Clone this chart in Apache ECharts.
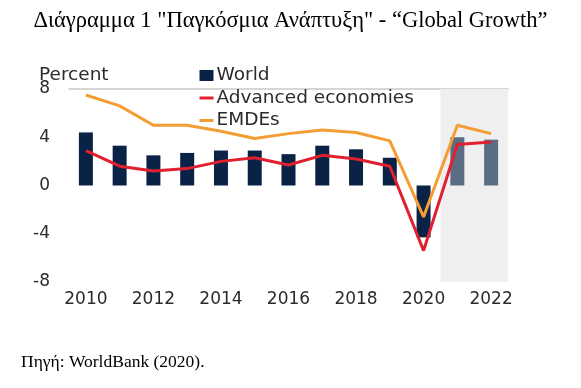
<!DOCTYPE html>
<html>
<head>
<meta charset="utf-8">
<script src="https://cdn.jsdelivr.net/npm/echarts@6/dist/echarts.min.js"></script>
<style>
  html, body { margin: 0; padding: 0; background: #ffffff; }
  #chart { width: 581px; height: 388px; }
</style>
</head>
<body>
<div id="chart"></div>
<script>
const years = ['2010','2011','2012','2013','2014','2015','2016','2017','2018','2019','2020','2021','2022'];
const world = [4.4, 3.3, 2.5, 2.7, 2.9, 2.9, 2.6, 3.3, 3.0, 2.3, -4.3, 4.0, 3.8];
const advanced = [2.9, 1.6, 1.2, 1.4, 2.0, 2.3, 1.7, 2.5, 2.2, 1.6, -5.4, 3.4, 3.6];
const emdes = [7.5, 6.6, 5.0, 5.0, 4.5, 3.9, 4.3, 4.6, 4.4, 3.7, -2.6, 5.0, 4.3];
const yTicks = [-8, -4, 0, 4, 8];
const forecastYears = ['2021', '2022'];

const titleText = 'Διάγραμμα 1 "Παγκόσμια Ανάπτυξη" - \u201CGlobal Growth\u201D';
const sourceText = 'Πηγή: WorldBank (2020).';

const NAVY = '#0b2247', FORE = '#5a6d83', RED = '#e0202f', ORANGE = '#f59d35';
const chart = echarts.init(document.getElementById('chart'), null, { renderer: 'canvas' });
const axisFont = { fontFamily: 'DejaVu Sans', fontSize: 17, color: '#2b2b2b' };
const fStart = years.indexOf(forecastYears[0]);
const fEnd = years.indexOf(forecastYears[forecastYears.length - 1]);
const hiddenSymbol = { color: 'rgba(0,0,0,0)', borderColor: 'rgba(0,0,0,0)', borderWidth: 0 };

chart.setOption({
  backgroundColor: '#ffffff',
  animation: false,
  title: [
    { text: titleText, left: 'center', top: 5,
      textStyle: { fontFamily: 'Liberation Serif', fontSize: 22.5, fontWeight: 'normal', color: '#000' } },
    { text: 'Percent', left: 34, top: 61,
      textStyle: { fontFamily: 'DejaVu Sans', fontSize: 18.5, fontWeight: 'normal', color: '#2b2b2b' } },
    { text: sourceText, left: 16, top: 348,
      textStyle: { fontFamily: 'Liberation Serif', fontSize: 17.5, fontWeight: 'normal', color: '#000' } }
  ],
  legend: {
    orient: 'vertical', left: 193, top: 61, itemGap: 3.5,
    itemWidth: 14, itemHeight: 11,
    textStyle: { fontFamily: 'DejaVu Sans', fontSize: 18.5, color: '#2b2b2b', padding: [0, 0, 0, -2] },
    lineStyle: { width: 3 },
    data: [
      { name: 'World', icon: 'rect', itemStyle: { color: NAVY } },
      { name: 'Advanced economies', itemStyle: hiddenSymbol },
      { name: 'EMDEs', itemStyle: hiddenSymbol }
    ]
  },
  grid: { left: 69, right: 73, top: 89, bottom: 106 },
  xAxis: [
    { type: 'category', data: years, boundaryGap: true,
      axisLine: { show: false }, axisTick: { show: false },
      axisLabel: Object.assign({ interval: 1, margin: 9 }, axisFont),
      splitLine: { show: false } },
    { type: 'value', min: -0.5, max: 12.5, show: true,
      axisLine: { show: true, onZero: true, lineStyle: { color: '#c9c9c9', width: 1.5 } },
      axisTick: { show: false }, axisLabel: { show: false }, splitLine: { show: false } }
  ],
  yAxis: {
    type: 'value', min: yTicks[0], max: yTicks[yTicks.length - 1], interval: 4,
    axisLine: { show: false }, axisTick: { show: false }, splitLine: { show: false },
    axisLabel: Object.assign({ margin: 19 }, axisFont)
  },
  series: [
    { name: 'shade', type: 'line', xAxisIndex: 1, data: [], silent: true,
      markArea: { silent: true, itemStyle: { color: '#efefef' },
        data: [[{ xAxis: fStart - 0.5 }, { xAxis: fEnd + 0.5 }]] } },
    { name: 'World', type: 'bar', data: world, barWidth: 14, z: 3,
      itemStyle: { color: function (p) { return forecastYears.indexOf(p.name) >= 0 ? FORE : NAVY; } } },
    { name: 'Advanced economies', type: 'line', data: advanced, symbol: 'none', z: 4,
      lineStyle: { color: RED, width: 3 }, itemStyle: { color: RED } },
    { name: 'EMDEs', type: 'line', data: emdes, symbol: 'none', z: 5,
      lineStyle: { color: ORANGE, width: 3 }, itemStyle: { color: ORANGE } }
  ]
});
</script>
</body>
</html>
